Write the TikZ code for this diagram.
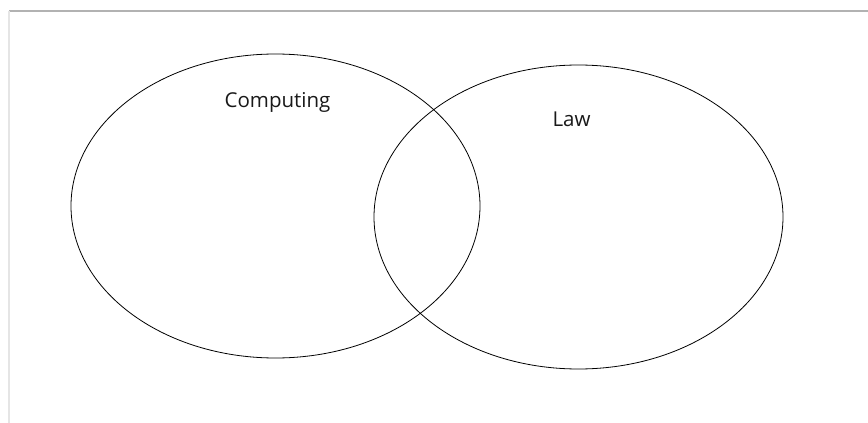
\documentclass[tikz,border=0pt]{standalone}
\usepackage{fontspec}
\setmainfont{Open Sans}
\usetikzlibrary{shapes.geometric}
\tikzset{
  setring/.style={draw=black,ellipse,line width=0.8pt,inner sep=0pt,
    minimum width=409pt,minimum height=304pt},
  setname/.style={font=\fontsize{20.5}{24}\selectfont,text=black!90,inner sep=0pt},
  frameline/.style={line width=2pt}
}

\begin{document}
\begin{tikzpicture}[x=1pt,y=-1pt]
\useasboundingbox (0,0) rectangle (868,423);
% page frame
\coordinate (ftl) at (9,11);
\coordinate (ftr) at (868,11);
\coordinate (fbl) at (9,423);
\draw[frameline,black!30] (ftl) -- (ftr);
\draw[frameline,black!10] (ftl) -- (fbl);
% the two sets
\node[setring] (computing) at (275.5,206) {};
\node[setring] (law) at (578.5,217) {};
\node[setname] (computingname) at (277.5,102) {Computing};
\node[setname] (lawname) at (571.5,119) {Law};
\end{tikzpicture}
\end{document}
